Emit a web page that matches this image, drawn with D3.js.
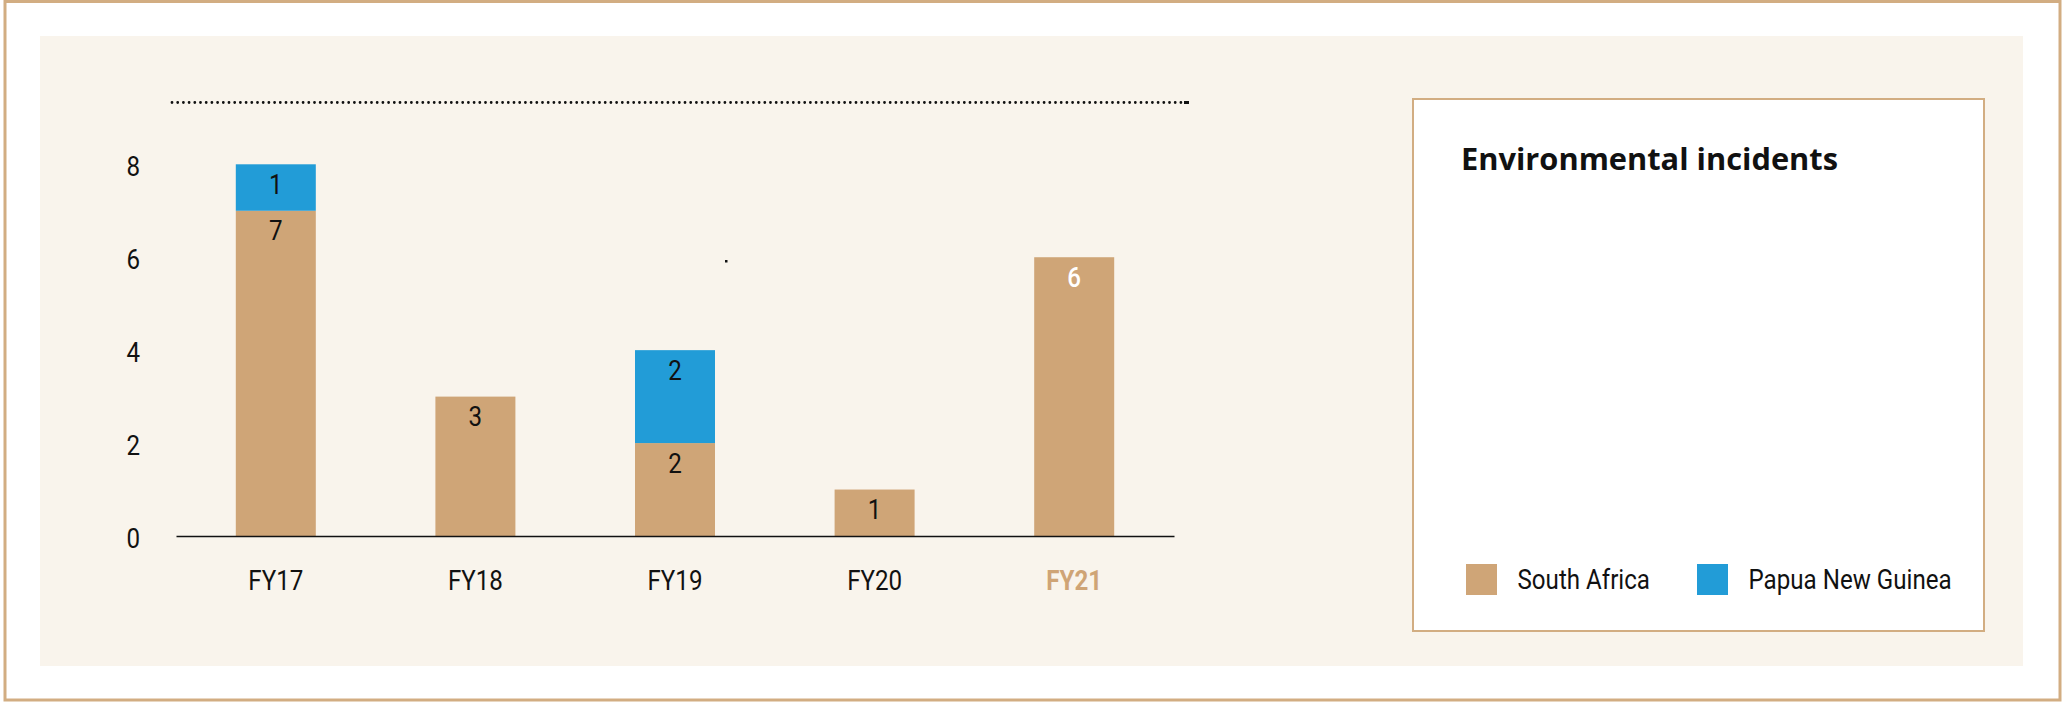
<!DOCTYPE html>
<html>
<head>
<meta charset="utf-8">
<script src="https://cdn.jsdelivr.net/npm/d3@7"></script>
<style>
  html, body { margin: 0; padding: 0; background: #ffffff; }
  svg { display: block; }
  .cond { font-family: Roboto, "Liberation Sans", sans-serif; }
</style>
</head>
<body>
<svg id="chart" width="2068" height="708"></svg>
<script>
// ---- data ----
const categories = ["FY17", "FY18", "FY19", "FY20", "FY21"];
const southAfrica = [7, 3, 2, 1, 6];
const papuaNewGuinea = [1, 0, 2, 0, 0];
const seriesNames = ["South Africa", "Papua New Guinea"];
const yTicks = [0, 2, 4, 6, 8];
const title = "Environmental incidents";

// ---- styles ----
const colors = { "South Africa": "#cfa577", "Papua New Guinea": "#229cd7" };
const tan = "#d2ad82";
const panelBg = "#f9f4ec";

const svg = d3.select("#chart");

// outer frame
svg.append("rect").attr("x", 5).attr("y", 1.5).attr("width", 2055).attr("height", 698.5)
  .attr("fill", "#ffffff").attr("stroke", tan).attr("stroke-width", 3);
// inner panel
svg.append("rect").attr("x", 40).attr("y", 36).attr("width", 1983).attr("height", 630)
  .attr("fill", panelBg);

// dotted line at top
svg.append("line").attr("x1", 172).attr("x2", 1184).attr("y1", 102.5).attr("y2", 102.5)
  .attr("stroke", "#111").attr("stroke-width", 2.8).attr("stroke-linecap", "round")
  .attr("stroke-dasharray", "0,5.7");
svg.append("rect").attr("x", 1184).attr("y", 101).attr("width", 5).attr("height", 3).attr("fill", "#111");
// small stray mark
svg.append("rect").attr("x", 725).attr("y", 260).attr("width", 2.5).attr("height", 2.5).attr("fill", "#111");

// scales
const x = d3.scaleBand().domain(categories).range([176, 1174]).paddingInner(0.6).paddingOuter(0.3);
const y = d3.scaleLinear().domain([0, 8]).range([536, 164.3]);

const rows = categories.map((c, i) => ({ cat: c, "South Africa": southAfrica[i], "Papua New Guinea": papuaNewGuinea[i] }));
const stacked = d3.stack().keys(seriesNames)(rows);

const g = svg.append("g");
stacked.forEach(layer => {
  const key = layer.key;
  g.selectAll(null).data(layer.filter(d => d[1] - d[0] > 0)).enter().append("rect")
    .attr("x", d => x(d.data.cat) + x.bandwidth() / 2 - 40)
    .attr("width", 80)
    .attr("y", d => y(d[1]))
    .attr("height", d => y(d[0]) - y(d[1]))
    .attr("fill", colors[key]);
  g.selectAll(null).data(layer.filter(d => d[1] - d[0] > 0)).enter().append("text")
    .attr("class", "cond")
    .attr("x", d => x(d.data.cat) + x.bandwidth() / 2)
    .attr("y", d => y(d[1]) + 29.5)
    .attr("text-anchor", "middle")
    .attr("font-size", 28)
    .attr("fill", d => d.data.cat === "FY21" ? "#ffffff" : "#111111")
    .attr("font-weight", d => d.data.cat === "FY21" ? 500 : "normal")
    .text(d => d[1] - d[0]);
});

// x axis
const xAxis = svg.append("g").attr("transform", "translate(0,536)")
  .call(d3.axisBottom(x).tickSize(0).tickPadding(0).tickSizeOuter(0));
xAxis.select(".domain").attr("stroke", "#111").attr("stroke-width", 1.3);
xAxis.selectAll("text").attr("class", "cond")
  .attr("font-size", 28).attr("dy", 0).attr("y", 54)
  .attr("fill", d => d === "FY21" ? "#cfa476" : "#111111")
  .attr("font-weight", d => d === "FY21" ? "bold" : "normal");

// y axis
const yAxis = svg.append("g").attr("transform", "translate(176,0)")
  .call(d3.axisLeft(y).tickValues(yTicks).tickSize(0).tickPadding(36).tickFormat(d3.format("d")));
yAxis.select(".domain").remove();
yAxis.selectAll("text").attr("class", "cond").attr("font-size", 28).attr("fill", "#111")
  .attr("dy", 0).attr("y", 11);

// legend box
svg.append("rect").attr("x", 1413).attr("y", 99).attr("width", 1984 - 1413).attr("height", 532)
  .attr("fill", "#ffffff").attr("stroke", tan).attr("stroke-width", 2);

svg.append("text").attr("x", 1461).attr("y", 169.5)
  .attr("font-family", "'Open Sans', 'Noto Sans', sans-serif")
  .attr("font-weight", "bold").attr("font-size", 31)
  .attr("textLength", 377).attr("lengthAdjust", "spacingAndGlyphs")
  .attr("fill", "#111").text(title);

const legendX = [1466, 1697];
const legendTexts = [];
seriesNames.forEach((name, i) => {
  svg.append("rect").attr("x", legendX[i]).attr("y", 564).attr("width", 31).attr("height", 31)
    .attr("fill", colors[name]);
  legendTexts.push(svg.append("text").attr("class", "cond").attr("x", legendX[i] + 51.5).attr("y", 589)
    .attr("font-size", 28).attr("fill", "#111").text(name));
});

// condense the sans text to mimic a condensed face
const ref = legendTexts[0].node().getComputedTextLength();
const factor = 132.5 / ref;
svg.selectAll("text.cond").each(function () {
  const w = this.getComputedTextLength();
  d3.select(this).attr("textLength", w * factor).attr("lengthAdjust", "spacingAndGlyphs");
});
</script>
</body>
</html>
